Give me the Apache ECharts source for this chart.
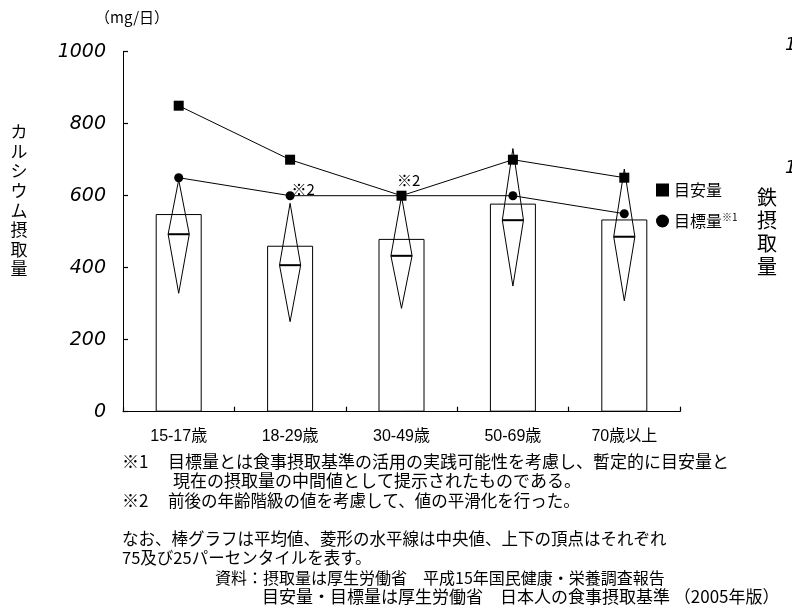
<!DOCTYPE html>
<html>
<head>
<meta charset="utf-8">
<script src="https://cdn.jsdelivr.net/npm/echarts@6/dist/echarts.min.js"></script>
<style>
  html, body { margin: 0; padding: 0; background: #fff; }
  #chart { width: 792px; height: 615px; }
</style>
</head>
<body>
<div id="chart"></div>
<script>
// Calcium intake by age group (mg/day)
const categories = ['15-17歳', '18-29歳', '30-49歳', '50-69歳', '70歳以上'];
const meanIntake = [549, 461, 480, 578, 534];      // bar: mean intake
const adequateIntake = [850, 700, 600, 700, 650];  // 目安量
const targetIntake = [650, 600, 600, 600, 550];    // 目標量
const p75 = [644, 579, 598, 731, 674];             // diamond top vertex
const medianIntake = [493, 407, 433, 532, 486];    // diamond horizontal line
const p25 = [329, 250, 287, 349, 308];             // diamond bottom vertex

const CJK = "'Noto Sans CJK JP', sans-serif";
const LATIN = "'Liberation Sans', 'Noto Sans CJK JP', sans-serif";

const chart = echarts.init(document.getElementById('chart'), null, { renderer: 'canvas' });

const diamondData = categories.map((c, i) => [i, p25[i], medianIntake[i], p75[i]]);

function renderDiamond(params, api) {
  const idx = api.value(0);
  const x = api.coord([idx, 0])[0];
  const bot = api.coord([idx, api.value(1)])[1];
  const mid = api.coord([idx, api.value(2)])[1];
  const top = api.coord([idx, api.value(3)])[1];
  const hw = api.size([1, 0])[0] * 0.095;
  return {
    type: 'group',
    children: [
      {
        type: 'polygon',
        shape: { points: [[x, top], [x + hw, mid], [x, bot], [x - hw, mid]] },
        style: { fill: 'none', stroke: '#000', lineWidth: 1 }
      },
      {
        type: 'line',
        shape: { x1: x - hw, y1: mid, x2: x + hw, y2: mid },
        style: { stroke: '#000', lineWidth: 2 }
      }
    ]
  };
}

const smoothNote = { show: true, formatter: '※2', color: '#000', fontSize: 15, fontFamily: CJK };

const footnotes = [
  { x: 122, y: 463, size: 17, text: '※1' },
  { x: 168, y: 463, size: 17, text: '目標量とは食事摂取基準の活用の実践可能性を考慮し、暫定的に目安量と' },
  { x: 173, y: 482, size: 17, text: '現在の摂取量の中間値として提示されたものである。' },
  { x: 122, y: 502, size: 17, text: '※2' },
  { x: 168, y: 502, size: 16.5, text: '前後の年齢階級の値を考慮して、値の平滑化を行った。' },
  { x: 122, y: 540, size: 16.5, text: 'なお、棒グラフは平均値、菱形の水平線は中央値、上下の頂点はそれぞれ' },
  { x: 122, y: 559, size: 16.5, text: '75及び25パーセンタイルを表す。' },
  { x: 215, y: 579, size: 16, text: '資料：摂取量は厚生労働省　平成15年国民健康・栄養調査報告' },
  { x: 262, y: 598, size: 17, text: '目安量・目標量は厚生労働省　日本人の食事摂取基準 （2005年版）' }
];

const graphics = footnotes.map(f => ({
  type: 'text', left: f.x, top: f.y - f.size / 2 - 1,
  style: { text: f.text, fill: '#000', font: f.size + "px " + CJK }
}));

graphics.push(
  { type: 'text', left: 95, top: 10,
    style: { text: '（mg/日）', fill: '#000', font: "15px " + CJK } },
  { type: 'text', x: 19, y: 122,
    style: { text: 'カルシウム摂取量'.split('').join('\n'), fill: '#000',
             font: "17px " + CJK, lineHeight: 19.6, align: 'center' } },
  { type: 'text', x: 767, y: 186,
    style: { text: '鉄摂取量'.split('').join('\n'), fill: '#000',
             font: "20px " + CJK, lineHeight: 23, align: 'center' } },
  { type: 'text', left: 785, top: 36,
    style: { text: '1', fill: '#000', font: "italic 18px 'DejaVu Sans'" } },
  { type: 'text', left: 785, top: 159,
    style: { text: '1', fill: '#000', font: "italic 18px 'DejaVu Sans'" } }
);

chart.setOption({
  animation: false,
  backgroundColor: '#fff',
  grid: { left: 123, right: 112, top: 51.7, bottom: 203.3 },
  legend: {
    orient: 'vertical', left: 651, top: 176, itemWidth: 13, itemHeight: 13, itemGap: 13,
    selectedMode: false,
    textStyle: {
      color: '#000', fontSize: 16, fontFamily: CJK, lineHeight: 18,
      rich: { s: { fontSize: 10, fontFamily: CJK, color: '#000', verticalAlign: 'top', lineHeight: 10 } }
    },
    formatter: name => name === '目標量' ? name + '{s|※1}' : name,
    data: [
      { name: '目安量', icon: 'rect', itemStyle: { color: '#000' } },
      { name: '目標量', icon: 'circle', itemStyle: { color: '#000' } }
    ]
  },
  xAxis: {
    type: 'category', data: categories, boundaryGap: true,
    axisLine: { show: true, lineStyle: { color: '#000', width: 1 } },
    axisTick: { show: true, inside: true, length: 5, lineStyle: { color: '#000', width: 1.2 } },
    axisLabel: { color: '#000', fontSize: 16, fontFamily: LATIN, margin: 17 },
    z: 10
  },
  yAxis: {
    type: 'value', min: 0, max: 1000, interval: 200,
    axisLine: { show: true, lineStyle: { color: '#000', width: 1 } },
    axisTick: { show: true, inside: true, length: 5, lineStyle: { color: '#000', width: 1.2 } },
    splitLine: { show: false },
    axisLabel: {
      color: '#000', fontSize: 19, fontStyle: 'italic', fontFamily: "'DejaVu Sans'", margin: 17,
      formatter: v => String(v)
    },
    z: 10
  },
  series: [
    {
      name: '平均値', type: 'bar', data: meanIntake, barWidth: 46, z: 1,
      itemStyle: { color: '#fff', borderColor: '#000', borderWidth: 1 }
    },
    {
      name: '分布', type: 'custom', data: diamondData, renderItem: renderDiamond, z: 2,
      encode: { x: 0, y: [1, 2, 3] }
    },
    {
      name: '目標量', type: 'line', z: 3,
      data: targetIntake.map((v, i) => {
        if (i === 1) return { value: v, label: Object.assign({ position: [6, -9] }, smoothNote) };
        if (i === 2) return { value: v, label: Object.assign({ position: [0, -18] }, smoothNote) };
        return v;
      }),
      symbol: 'circle', symbolSize: 9,
      lineStyle: { color: '#000', width: 1 },
      itemStyle: { color: '#000' }
    },
    {
      name: '目安量', type: 'line', data: adequateIntake, z: 4,
      symbol: 'rect', symbolSize: 10,
      lineStyle: { color: '#000', width: 1 },
      itemStyle: { color: '#000' }
    }
  ],
  graphic: graphics
});
</script>
</body>
</html>
